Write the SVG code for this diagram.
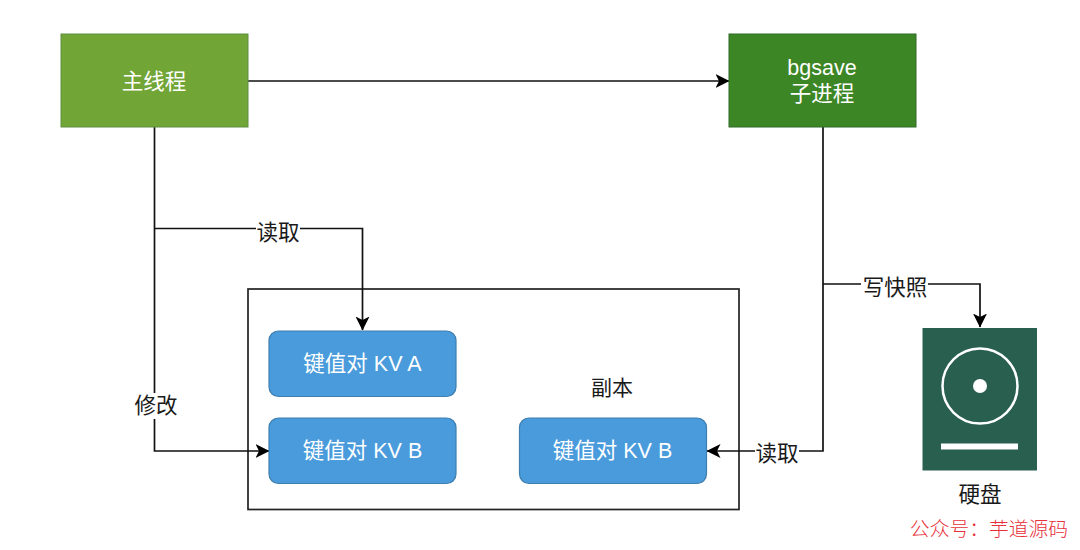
<svg xmlns="http://www.w3.org/2000/svg" width="1080" height="550" viewBox="0 0 1080 550">
<style>
text{font-family:"Liberation Sans","Noto Sans CJK SC",sans-serif;font-size:21.500px;text-anchor:middle}
.w{fill:#fff}
.k{fill:#1a1a1a}
.conn{fill:none;stroke:#111;stroke-width:1.700}
.kv{fill:#4a9bdc;stroke:#3f7fb0;stroke-width:1.200}
.lbl{fill:#fff;stroke:none}
</style>
<defs>
<marker id="arr" viewBox="0 0 14 16" refX="13.500" refY="8" markerWidth="14" markerHeight="16" markerUnits="userSpaceOnUse" orient="auto">
<path d="M0 1 L14 8 L0 15 L3.500 8 Z" fill="#000"/>
</marker>
</defs>
<rect width="1080" height="550" fill="#fff"/>
<g id="copy"><rect x="248" y="289" width="491" height="220.500" fill="#fff" stroke="#222" stroke-width="1.700"/><text class="k" x="612" y="395" style="font-size:21px">副本</text></g>
<g id="connectors">
<path class="conn" d="M248 81H729" marker-end="url(#arr)"/>
<path class="conn" d="M154.500 127V451H269" marker-end="url(#arr)"/>
<path class="conn" d="M154.500 228.500H362.500V330" marker-end="url(#arr)"/>
<path class="conn" d="M823 127V451H707" marker-end="url(#arr)"/>
<path class="conn" d="M823 284H980V327" marker-end="url(#arr)"/>
<rect class="lbl" x="256" y="218" width="44" height="26"/>
<text class="k" x="278" y="240">读取</text>
<rect class="lbl" x="134" y="393" width="44" height="26"/>
<text class="k" x="156" y="413">修改</text>
<rect class="lbl" x="755" y="439" width="44" height="26"/>
<text class="k" x="777" y="461">读取</text>
<rect class="lbl" x="861" y="274" width="67" height="26"/>
<text class="k" x="895" y="295">写快照</text>
</g>
<g id="main"><rect x="61" y="34" width="187" height="93" fill="#71a536" stroke="#5f8f3e" stroke-width="1"/><text class="w" x="154" y="88.500">主线程</text></g>
<g id="bgsave"><rect x="729" y="34" width="187" height="93" fill="#3c8625" stroke="#2f6b2a" stroke-width="1"/><text class="w" x="822" y="75">bgsave</text><text class="w" x="822" y="101">子进程</text></g>
<g id="kva"><rect class="kv" x="269" y="331" width="187" height="65.500" rx="9.500"/><text class="w" x="362.500" y="371">键值对 KV A</text></g>
<g id="kvb"><rect class="kv" x="269" y="418" width="187" height="65.500" rx="9.500"/><text class="w" x="362.500" y="458">键值对 KV B</text></g>
<g id="kvb2"><rect class="kv" x="519.500" y="418" width="187" height="65.500" rx="9.500"/><text class="w" x="612.500" y="458">键值对 KV B</text></g>
<g id="disk">
<rect x="922.500" y="328" width="114.500" height="142.500" fill="#285f4f"/>
<circle cx="980" cy="386" r="37.500" fill="none" stroke="#fff" stroke-width="2.500"/>
<circle cx="980" cy="386" r="7" fill="#fff"/>
<rect x="941" y="443.500" width="77" height="6" fill="#fff"/>
<text class="k" x="980" y="502">硬盘</text>
</g>
<text x="989" y="536" style="fill:#e8303a;font-family:'Noto Sans CJK SC',serif;font-weight:300;font-size:19.800px">公众号：芋道源码</text>
</svg>
